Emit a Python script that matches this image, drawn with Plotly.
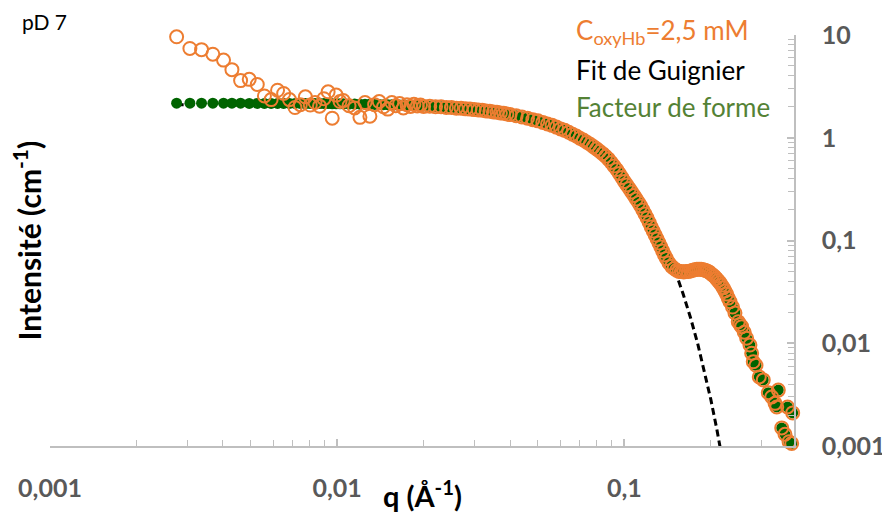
import plotly.graph_objects as go

# ---------------- data ----------------
q_exp = [
    0.00276, 0.00307, 0.00337, 0.00369, 0.00402, 0.00430, 0.00461, 0.00494, 0.00527, 0.00558,
    0.00589, 0.00620, 0.00651, 0.00682, 0.00713, 0.00744, 0.00775, 0.00806, 0.00837, 0.00868,
    0.00899, 0.00930, 0.00961, 0.00992, 0.01023,
    0.0105, 0.0110, 0.0115, 0.0120, 0.0125, 0.0130, 0.0135, 0.0140, 0.0145, 0.0150,
    0.0155, 0.0160, 0.0165, 0.0170, 0.0175, 0.0180, 0.0185, 0.0190, 0.0195, 0.0200,
    0.021, 0.022, 0.023, 0.024, 0.025, 0.026, 0.027, 0.028, 0.029, 0.030,
    0.031, 0.032, 0.033, 0.034, 0.035, 0.036, 0.037, 0.038, 0.039, 0.040,
    0.042, 0.044, 0.046, 0.048, 0.050, 0.052, 0.054, 0.056, 0.058, 0.060,
    0.062, 0.064, 0.066, 0.068, 0.070, 0.072, 0.074, 0.076, 0.078, 0.080,
    0.082, 0.084, 0.086, 0.088, 0.090,
    0.092, 0.094, 0.096, 0.098, 0.100, 0.102, 0.104, 0.106, 0.108, 0.110,
    0.112, 0.114, 0.116, 0.118, 0.120, 0.122, 0.124, 0.126, 0.128, 0.130,
    0.132, 0.134, 0.136, 0.138, 0.140,
    0.143, 0.146, 0.149, 0.152, 0.155, 0.158, 0.161, 0.164, 0.167, 0.170,
    0.173, 0.176, 0.179, 0.182, 0.185, 0.188, 0.191, 0.194, 0.197, 0.200,
    0.203, 0.206, 0.209, 0.212, 0.215, 0.218, 0.221, 0.224, 0.227, 0.230,
    0.2332, 0.2380, 0.2427, 0.2492, 0.2527, 0.2561, 0.2615, 0.2666, 0.2737, 0.2775,
    0.2811, 0.2873, 0.2950, 0.3046, 0.3171, 0.3259, 0.3347, 0.3393, 0.3436, 0.3531,
    0.3625, 0.3700, 0.3745, 0.3825, 0.3856,
]

i_exp = [
    9.6, 7.4, 7.2, 6.5, 5.7, 4.6, 3.6, 3.7, 3.3, 2.55,
    2.35, 2.9, 2.7, 2.35, 1.97, 2.1, 2.5, 2.08, 2.2, 2.03,
    2.4, 2.8, 1.55, 2.6, 2.25,
    2.30, 2.05, 1.95, 1.58, 2.20, 1.62, 2.10, 2.25, 2.00, 1.90,
    2.20, 2.05, 2.15, 1.95, 2.10, 2.02, 2.12, 2.04, 2.08, 2.02,
    2.03, 2.00, 2.00, 1.97, 1.97, 1.94, 1.94, 1.91, 1.90, 1.88,
    1.86, 1.85, 1.82, 1.81, 1.78, 1.77, 1.74, 1.73, 1.70, 1.68,
    1.64, 1.59, 1.55, 1.50, 1.46, 1.41, 1.36, 1.32, 1.27, 1.22,
    1.18, 1.13, 1.08, 1.04, 0.99, 0.95, 0.905, 0.865, 0.82, 0.78,
    0.74, 0.70, 0.66, 0.62, 0.575,
    0.531, 0.491, 0.449, 0.410, 0.375, 0.347, 0.321, 0.2965, 0.274, 0.2535,
    0.2344, 0.2166, 0.198, 0.181, 0.1656, 0.1497, 0.1353, 0.1237, 0.1131, 0.1034,
    0.0946, 0.0865, 0.0791, 0.0723, 0.0668,
    0.0604, 0.0560, 0.0534, 0.0513, 0.0500, 0.0500, 0.0495, 0.0500, 0.0500, 0.0506,
    0.0513, 0.0519, 0.0525, 0.0525, 0.0525, 0.0519, 0.0513, 0.0506, 0.0495, 0.0478,
    0.0462, 0.0446, 0.0426, 0.0407, 0.0389, 0.0367, 0.0346, 0.0322, 0.0301, 0.0275,
    0.0254, 0.0225, 0.0197, 0.0162, 0.0152, 0.0145, 0.0128, 0.0112, 0.0096, 0.0080,
    0.0066, 0.0061, 0.0047, 0.0044, 0.0033, 0.0030, 0.0026, 0.0024, 0.0035, 0.0015,
    0.0013, 0.0024, 0.0011, 0.00106, 0.0021,
]

# form factor values where they differ from the measured curve (low q)
i_form_low = [
    2.17, 2.17, 2.17, 2.17, 2.17, 2.17, 2.17, 2.16, 2.16, 2.16,
    2.16, 2.16, 2.16, 2.16, 2.16, 2.16, 2.15, 2.15, 2.15, 2.15,
    2.15, 2.15, 2.14, 2.14, 2.14,
    2.14, 2.13, 2.13, 2.12, 2.12, 2.12, 2.11, 2.11, 2.10, 2.10,
    2.09, 2.09, 2.08, 2.08, 2.07, 2.07, 2.06, 2.06, 2.05, 2.04,
]
i_form = i_form_low + i_exp[len(i_form_low):]

# Guinier fit curve
q_fit = [0.00276, 0.005, 0.01, 0.02, 0.03, 0.04, 0.05, 0.06, 0.07, 0.08,
         0.09, 0.10, 0.11, 0.12, 0.13, 0.14, 0.15, 0.16, 0.17, 0.18,
         0.19, 0.20, 0.21, 0.22]
i_fit = [2.097, 2.091, 2.066, 1.966, 1.810, 1.612, 1.389, 1.158, 0.935, 0.7295,
         0.5508, 0.4017, 0.2840, 0.1942, 0.1285, 0.0823, 0.0510, 0.0305, 0.0177, 0.00993,
         0.00539, 0.00284, 0.001443, 0.000709]

x_tickvals = [0.001, 0.01, 0.1]
x_ticktext = ["0,001", "0,01", "0,1"]
y_tickvals = [0.001, 0.01, 0.1, 1, 10]
y_ticktext = ["0,001", "0,01", "0,1", "1", "10"]

legend_labels = ["C<sub>oxyHb</sub>=2,5 mM", "Fit de Guignier", "Facteur de forme"]
legend_colors = ["#ED7D31", "#000000", "#548235"]

# ---------------- figure ----------------
FONT = "Lato"
AXIS_GRAY = "#BFBFBF"
LABEL_GRAY = "#595959"

minor_x = [m * 10 ** e for e in (-3, -2, -1) for m in range(2, 10) if m * 10 ** e < 0.39]
minor_y = [m * 10 ** e for e in (-3, -2, -1, 0) for m in range(2, 10)]

fig = go.Figure()
fig.add_trace(go.Scatter(
    x=q_fit, y=i_fit, mode="lines",
    line=dict(color="black", width=3, dash="7px,4px"),
    hoverinfo="skip"))
fig.add_trace(go.Scatter(
    x=q_exp, y=i_form, mode="markers", cliponaxis=False,
    marker=dict(size=11, color="#006400", line=dict(width=0))))
fig.add_trace(go.Scatter(
    x=q_exp, y=i_exp, mode="markers", cliponaxis=False,
    marker=dict(symbol="circle-open", size=13, color="#ED7D31", line=dict(width=2))))

# the page body adds an 8 px offset, so the figure is 8 px smaller on each axis
fig.update_layout(
    width=882, height=507,
    margin=dict(l=42, r=96, t=27, b=69),
    paper_bgcolor="white", plot_bgcolor="white",
    showlegend=False,
    font=dict(family=FONT),
    xaxis=dict(
        type="log", range=[-3, -0.4093], automargin=False,
        showline=True, linecolor=AXIS_GRAY, linewidth=1.5,
        showgrid=False, zeroline=False,
        ticks="inside", ticklen=7, tickwidth=1.5, tickcolor=AXIS_GRAY,
        tickmode="array", tickvals=x_tickvals, ticktext=x_ticktext,
        tickfont=dict(family=FONT, size=25, color=LABEL_GRAY, weight="bold"),
        ticklabelstandoff=19,
        minor=dict(tickmode="array", tickvals=minor_x, ticks="inside", ticklen=6,
                   tickwidth=1, tickcolor=AXIS_GRAY, showgrid=False),
    ),
    yaxis=dict(
        type="log", range=[-3, 1], side="right", automargin=False,
        showline=True, linecolor=AXIS_GRAY, linewidth=1.5,
        showgrid=False, zeroline=False,
        ticks="inside", ticklen=7, tickwidth=1.5, tickcolor=AXIS_GRAY,
        tickmode="array", tickvals=y_tickvals, ticktext=y_ticktext,
        tickfont=dict(family=FONT, size=25, color=LABEL_GRAY, weight="bold"),
        ticklabelstandoff=21,
        minor=dict(tickmode="array", tickvals=minor_y, ticks="inside", ticklen=6,
                   tickwidth=1, tickcolor=AXIS_GRAY, showgrid=False),
    ),
)

annotations = []
legend_y = [1.0097, 0.915, 0.825]
for txt, col, yy in zip(legend_labels, legend_colors, legend_y):
    annotations.append(dict(
        text=txt, x=0.7043, y=yy, xref="paper", yref="paper",
        xanchor="left", yanchor="middle", showarrow=False,
        font=dict(family=FONT, size=26, color=col)))
annotations.append(dict(
    text="pD 7", x=-0.0403, y=1.034, xref="paper", yref="paper",
    xanchor="left", yanchor="middle", showarrow=False,
    font=dict(family=FONT, size=21, color="black")))
annotations.append(dict(
    text="<b>Intensité (cm<sup>-1</sup>)</b>", x=-0.031, y=0.5,
    xref="paper", yref="paper", xanchor="center", yanchor="middle",
    textangle=-90, showarrow=False,
    font=dict(family=FONT, size=30, color="black")))
annotations.append(dict(
    text="<b>q (Å<sup>-1</sup>)</b>", x=0.5, y=-0.117,
    xref="paper", yref="paper", xanchor="center", yanchor="middle",
    showarrow=False, font=dict(family=FONT, size=29, color="black")))
fig.update_layout(annotations=annotations)

fig.write_html("out.html")
